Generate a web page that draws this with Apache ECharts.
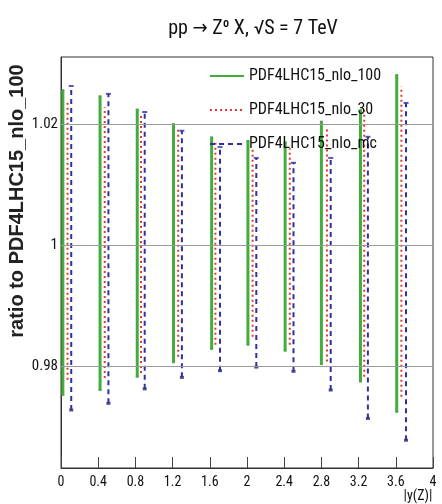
<!DOCTYPE html>
<html>
<head>
<meta charset="utf-8">
<script src="https://cdn.jsdelivr.net/npm/echarts@6/dist/echarts.min.js"></script>
<style>
html,body{margin:0;padding:0;background:#fff;}
#c{width:442px;height:504px;}
</style>
</head>
<body>
<div id="c"></div>
<script>
// ---- data ----
const seriesNames = ['PDF4LHC15_nlo_100', 'PDF4LHC15_nlo_30', 'PDF4LHC15_nlo_mc'];
const xTickLabels = ['0', '0.4', '0.8', '1.2', '1.6', '2', '2.4', '2.8', '3.2', '3.6', '4'];
const yTickValues = [0.98, 1, 1.02];

const xGreen = [0.02, 0.42, 0.82, 1.21, 1.62, 2.01, 2.41, 2.80, 3.22, 3.61];
const greenHi = [1.0256, 1.0246, 1.0224, 1.0200, 1.0178, 1.0172, 1.0170, 1.0204, 1.0223, 1.0281];
const greenLo = [0.9752, 0.9760, 0.9782, 0.9806, 0.9828, 0.9835, 0.9825, 0.9803, 0.9774, 0.9724];

const xRed = [0.07, 0.47, 0.86, 1.26, 1.66, 2.06, 2.46, 2.86, 3.26, 3.66];
const redHi = [1.0240, 1.0228, 1.0215, 1.0192, 1.0170, 1.0162, 1.0160, 1.0196, 1.0229, 1.0262];
const redLo = [0.9777, 0.9780, 0.9788, 0.9815, 0.9835, 0.9848, 0.9835, 0.9807, 0.9782, 0.9749];

const xBlue = [0.11, 0.51, 0.90, 1.30, 1.71, 2.10, 2.50, 2.90, 3.30, 3.71];
const blueHi = [1.0263, 1.0250, 1.0220, 1.0189, 1.0162, 1.0144, 1.0136, 1.0144, 1.0179, 1.0235];
const blueLo = [0.9727, 0.9738, 0.9762, 0.9781, 0.9792, 0.9798, 0.9791, 0.9760, 0.9713, 0.9677];

// ---- build ----
const FONT = '"Roboto Condensed","DejaVu Sans Condensed","Liberation Sans",Arial,sans-serif';
function segs(xs, lo, hi) {
  const d = [];
  xs.forEach((x, i) => { d.push([x, lo[i]]); d.push([x, hi[i]]); d.push([x, null]); });
  return d;
}
function pts(xs, v) { return xs.map((x, i) => [x, v[i]]); }

const GREEN = '#42ad3c', RED = '#e23b2c', BLUE = '#2f2fa6';

const chart = echarts.init(document.getElementById('c'), null, {renderer: 'canvas'});
chart.setOption({
  backgroundColor: '#ffffff',
  animation: false,
  title: {
    text: 'pp \u2192 Z\u2070 X, \u221AS = 7 TeV',
    left: 248, top: 14, textAlign: 'center',
    textStyle: {fontFamily: FONT, fontSize: 20, fontWeight: 'normal', color: '#111'}
  },
  legend: {
    data: seriesNames,
    orient: 'vertical',
    left: 204, top: 63,
    itemWidth: 34, itemHeight: 14, itemGap: 18,
    itemStyle: {opacity: 0},
    textStyle: {fontFamily: FONT, fontSize: 16, color: '#111'}
  },
  grid: {left: 61, right: 9, top: 57, bottom: 36, show: true, borderColor: '#333', borderWidth: 1, backgroundColor: 'transparent'},
  xAxis: {
    type: 'value', min: 0, max: 4, interval: 0.4,
    axisLine: {show: true, lineStyle: {color: '#333'}},
    axisTick: {show: true, inside: true, length: 11, lineStyle: {color: '#444'}},
    axisLabel: {fontFamily: FONT, fontSize: 14, color: '#111', margin: 7,
      formatter: (v) => { const i = Math.round(v / 0.4); return xTickLabels[i] !== undefined ? xTickLabels[i] : ''; }},
    splitLine: {show: false}
  },
  yAxis: {
    type: 'value', min: 0.9631, max: 1.0311,
    axisLine: {show: true, lineStyle: {color: '#333'}},
    axisTick: {show: true, inside: true, length: 9, customValues: yTickValues, lineStyle: {color: '#444'}},
    axisLabel: {fontFamily: FONT, fontSize: 15, color: '#111', margin: 3, customValues: yTickValues,
      formatter: (v) => String(Math.round(v * 100) / 100)},
    splitLine: {show: false}
  },
  graphic: [
    {type: 'text', x: 17, y: 201, rotation: Math.PI / 2,
      style: {text: 'ratio to PDF4LHC15_nlo_100', fontFamily: '"Liberation Sans",Arial,sans-serif', fontSize: 20, fontWeight: 'bold',
        fill: '#222', textAlign: 'center', textVerticalAlign: 'middle'}},
    {type: 'text', x: 418, y: 496,
      style: {text: '|y(Z)|', fontFamily: FONT, fontSize: 14, fill: '#111', textAlign: 'center', textVerticalAlign: 'middle'}}
  ],
  series: [
    {name: 'grid', type: 'line', data: [], silent: true,
      markLine: {silent: true, symbol: 'none', label: {show: false},
        lineStyle: {color: '#9a9a9a', width: 1, type: 'solid'},
        data: yTickValues.map(v => ({yAxis: v}))}},
    {name: seriesNames[0], type: 'line', data: segs(xGreen, greenLo, greenHi), connectNulls: false,
      symbol: 'none', color: GREEN, lineStyle: {color: GREEN, width: 3, type: 'solid'}},
    {name: seriesNames[1], type: 'line', data: segs(xRed, redLo, redHi), connectNulls: false,
      symbol: 'none', color: RED, lineStyle: {color: RED, width: 2, type: [2, 3]}},
    {name: seriesNames[2], type: 'line', data: segs(xBlue, blueLo, blueHi), connectNulls: false,
      symbol: 'none', color: BLUE, lineStyle: {color: BLUE, width: 2, type: [5, 4]}},
    {type: 'scatter', data: pts(xBlue, blueHi), symbol: 'rect', symbolSize: [5, 2], itemStyle: {color: BLUE}, silent: true},
    {type: 'scatter', data: pts(xBlue, blueLo), symbol: 'rect', symbolSize: [4, 3], itemStyle: {color: '#22226a'}, silent: true},
    {type: 'scatter', data: pts(xGreen, greenHi), symbol: 'rect', symbolSize: [3, 2], itemStyle: {color: '#2e8a2e'}, silent: true},
    {type: 'scatter', data: pts(xGreen, greenLo), symbol: 'rect', symbolSize: [3, 2], itemStyle: {color: '#2e8a2e'}, silent: true}
  ]
});
</script>
</body>
</html>
